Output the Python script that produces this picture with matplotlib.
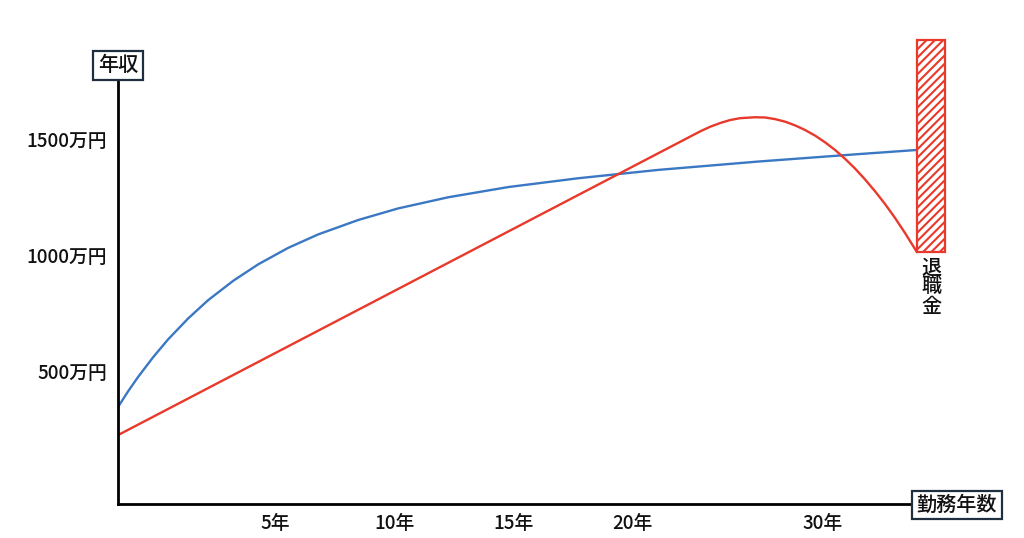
import matplotlib
matplotlib.use("Agg")
import matplotlib.pyplot as plt

plt.rcParams['font.family'] = ['Noto Sans CJK JP', 'DejaVu Sans']
plt.rcParams['hatch.linewidth'] = 1.5
plt.rcParams['hatch.color'] = '#e8392b'

# data (x: 勤務年数 units, y: 万円)
blue_x = [-1.60, -1.18, -0.76, -0.13, 0.50, 1.34, 2.18, 3.24, 4.29, 5.55, 6.81,
          8.49, 10.17, 12.27, 14.79, 17.73, 21.09, 25.29, 29.50, 31.97]
blue_y = [345, 412, 474, 559, 636, 726, 805, 889, 960, 1031, 1089,
          1151, 1201, 1249, 1293, 1331, 1367, 1403, 1435, 1453]

red_x = [-1.60, 22.86, 23.28, 23.70, 24.12, 24.54, 25.17, 25.59, 26.01, 26.43, 26.85,
         27.27, 27.69, 28.11, 28.53, 28.95, 29.37, 29.79, 30.21, 30.63, 31.05, 31.47, 31.97]
red_y = [224, 1533, 1553, 1569, 1582, 1590, 1594, 1593, 1586, 1575, 1559,
         1539, 1515, 1486, 1453, 1415, 1373, 1326, 1275, 1220, 1160, 1095, 1013]

bar_left = 31.97
bar_right = 33.15
bar_bottom = 1013
bar_top = 1927

x_tick_pos = [5, 10, 15, 20, 28.0]
x_tick_labels = ['5年', '10年', '15年', '20年', '30年']
y_tick_pos = [500, 1000, 1500]
y_tick_labels = ['500万円', '1000万円', '1500万円']

W, H = 1024, 538
fig = plt.figure(figsize=(W / 100, H / 100), dpi=100)
ax = fig.add_axes([118 / W, (H - 504) / H, (950 - 118) / W, (504 - 40) / H])
ax.set_xlim(-1.60, 33.36)
ax.set_ylim(-73, 1927)

ax.plot(blue_x, blue_y, color='#3b78c4', lw=1.7, solid_capstyle='round', solid_joinstyle='round')
ax.plot(red_x, red_y, color='#e8392b', lw=1.7, solid_capstyle='round', solid_joinstyle='round')

ax.bar((bar_left + bar_right) / 2, bar_top - bar_bottom, width=bar_right - bar_left,
       bottom=bar_bottom, facecolor='white', edgecolor='#e8392b', hatch='////', lw=1.6,
       clip_on=False, zorder=3)

for s in ['top', 'right']:
    ax.spines[s].set_visible(False)
ax.spines['left'].set_bounds(-73, 1754)
ax.spines['bottom'].set_bounds(-1.60, 31.76)
for s in ['left', 'bottom']:
    ax.spines[s].set_linewidth(2)
    ax.spines[s].set_color('black')
    ax.spines[s].set_capstyle('projecting')

ax.set_xticks(x_tick_pos, x_tick_labels)
ax.set_yticks(y_tick_pos, y_tick_labels)
ax.tick_params(axis='both', length=0, labelsize=13.5, colors='#111111')
for lab in ax.get_xticklabels() + ax.get_yticklabels():
    lab.set_fontweight('medium')
ax.tick_params(axis='x', pad=7)
ax.tick_params(axis='y', pad=8)

box = dict(boxstyle='square,pad=0.22', fc='white', ec='#1f2f3f', lw=1.6)
fig.text(118 / W, 1 - 65.5 / H, '年収', ha='center', va='center', fontsize=14.5,
         color='#111111', bbox=box, fontweight='medium')
fig.text(957 / W, 1 - 505 / H, '勤務年数', ha='center', va='center', fontsize=14.5,
         color='#111111', bbox=box, fontweight='medium')
fig.text(931 / W, 1 - 259 / H, '退\n職\n金', ha='center', va='top', fontsize=14.5,
         color='#111111', linespacing=1.0, fontweight='medium')

fig.savefig('out.png', dpi=100, facecolor='white')
